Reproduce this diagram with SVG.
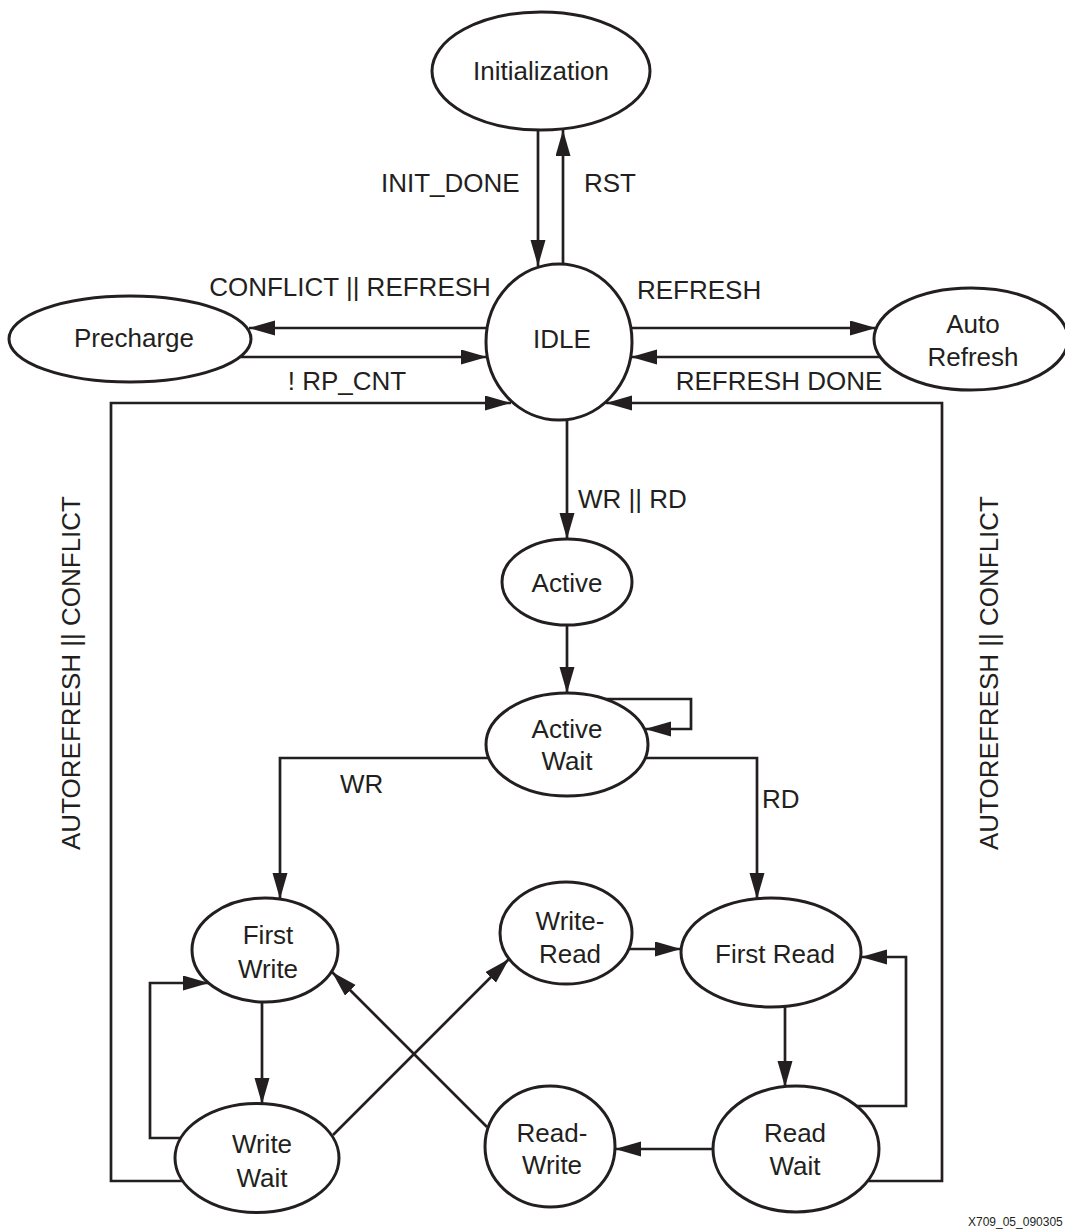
<svg xmlns="http://www.w3.org/2000/svg" width="1065" height="1230" viewBox="0 0 1065 1230">
<style>
.n ellipse{fill:#fff;stroke:#231f20;stroke-width:3}
text{font-family:"Liberation Sans",Arial,sans-serif;font-size:26px;fill:#231f20}
.c{text-anchor:middle}
.e path{fill:none;stroke:#231f20;stroke-width:2.7;marker-end:url(#ah)}
.e path.nm{marker-end:none}
</style>
<defs>
<marker id="ah" markerUnits="userSpaceOnUse" markerWidth="27" markerHeight="16" refX="26" refY="7.5" orient="auto">
<path d="M0,0 L26,7.5 L0,15 z" fill="#231f20"/>
</marker>
</defs>
<rect width="1065" height="1230" fill="#fff"/>
<g id="connectors" class="e">
<path d="M538,130 L538,266"/>
<path d="M563,264 L563,130"/>
<path d="M487,328 L249,328"/>
<path d="M240,357 L487,357"/>
<path d="M183,1181 L111,1181 L111,403 L511,403"/>
<path d="M867,1181 L942,1181 L942,403 L606,403"/>
<path d="M632,328 L876,328"/>
<path d="M880,357 L631,357"/>
<path d="M567,420 L567,539"/>
<path d="M567,625 L567,693"/>
<path d="M605,699 L691,699 L691,729 L645,729"/>
<path d="M489,758 L280,758 L280,899"/>
<path d="M645,758 L757,758 L757,899"/>
<path d="M262,1001 L262,1104"/>
<path d="M181,1138 L150,1138 L150,983 L209,983"/>
<path d="M333,1135 L509,959"/>
<path d="M487,1127 L332,972"/>
<path d="M629,949 L681,949"/>
<path d="M785,1006 L785,1087"/>
<path d="M857,1106 L906,1106 L906,957 L861,957"/>
<path d="M713,1149 L615,1149"/>
</g>
<g id="labels">
<text x="381" y="192">INIT_DONE</text>
<text x="584" y="192">RST</text>
<text x="350" y="296" class="c">CONFLICT || REFRESH</text>
<text x="347" y="390" class="c">! RP_CNT</text>
<text x="637" y="299">REFRESH</text>
<text x="779" y="390" class="c">REFRESH DONE</text>
<text x="578" y="508">WR || RD</text>
<text x="340" y="793">WR</text>
<text x="762" y="808">RD</text>
<text class="c" transform="translate(80,673) rotate(-90)">AUTOREFRESH || CONFLICT</text>
<text class="c" transform="translate(998,673) rotate(-90)">AUTOREFRESH || CONFLICT</text>
<text x="968" y="1226" style="font-size:12px">X709_05_090305</text>
</g>
<g id="init" class="n"><ellipse cx="541" cy="71" rx="109" ry="59"/><text x="541" y="80" class="c">Initialization</text></g>
<g id="idle" class="n"><ellipse cx="559" cy="342" rx="73" ry="78"/><text x="562" y="348" class="c">IDLE</text></g>
<g id="precharge" class="n"><ellipse cx="130" cy="339" rx="121" ry="43"/><text x="134" y="347" class="c">Precharge</text></g>
<g id="autorefresh" class="n"><ellipse cx="971" cy="339" rx="97" ry="51"/><text x="973" y="333" class="c">Auto</text><text x="973" y="366" class="c">Refresh</text></g>
<g id="active" class="n"><ellipse cx="567" cy="582" rx="65" ry="43"/><text x="567" y="592" class="c">Active</text></g>
<g id="activewait" class="n"><ellipse cx="567" cy="744.5" rx="81" ry="51.5"/><text x="567" y="738" class="c">Active</text><text x="567" y="770" class="c">Wait</text></g>
<g id="firstwrite" class="n"><ellipse cx="265" cy="950" rx="73" ry="52"/><text x="268" y="944" class="c">First</text><text x="268" y="978" class="c">Write</text></g>
<g id="writewait" class="n"><ellipse cx="257" cy="1158" rx="82" ry="54.5"/><text x="262" y="1153" class="c">Write</text><text x="262" y="1187" class="c">Wait</text></g>
<g id="writeread" class="n"><ellipse cx="566" cy="933" rx="66" ry="51"/><text x="570" y="930" class="c">Write-</text><text x="570" y="963" class="c">Read</text></g>
<g id="firstread" class="n"><ellipse cx="771" cy="952.5" rx="90" ry="54.5"/><text x="775" y="963" class="c">First Read</text></g>
<g id="readwrite" class="n"><ellipse cx="550" cy="1146.5" rx="65" ry="60.5"/><text x="552" y="1142" class="c">Read-</text><text x="552" y="1174" class="c">Write</text></g>
<g id="readwait" class="n"><ellipse cx="796" cy="1149" rx="83" ry="63"/><text x="795" y="1142" class="c">Read</text><text x="795" y="1175" class="c">Wait</text></g>
</svg>
